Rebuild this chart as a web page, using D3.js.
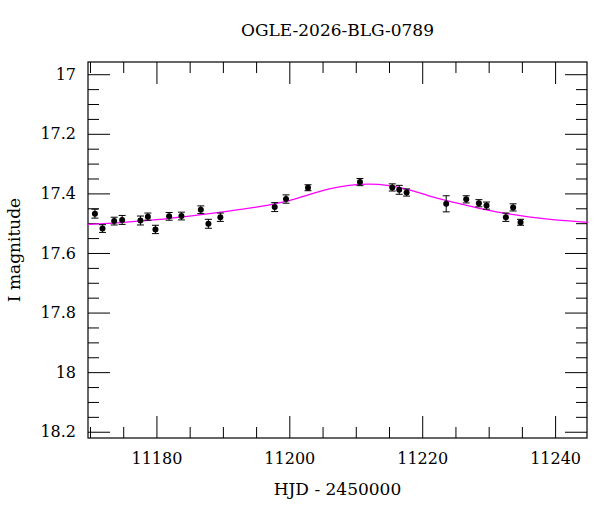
<!DOCTYPE html>
<html><head><meta charset="utf-8">
<script src="https://cdn.jsdelivr.net/npm/d3@7"></script>
<style>body{margin:0;background:#fff}</style>
</head><body><div id="chart"></div>
<script>
// observed photometry
var hjd = [11170.74, 11171.88, 11173.64, 11174.84, 11177.59, 11178.71, 11179.85, 11181.91, 11183.76,
  11186.68, 11187.82, 11189.62, 11197.80, 11199.50, 11202.81, 11210.63, 11215.49, 11216.54, 11217.65,
  11223.61, 11226.62, 11228.53, 11229.68, 11232.59, 11233.68, 11234.80];
var mag = [17.468, 17.518, 17.493, 17.489, 17.491, 17.478, 17.521, 17.477, 17.476,
  17.455, 17.502, 17.480, 17.446, 17.419, 17.381, 17.362, 17.380, 17.388, 17.397,
  17.435, 17.420, 17.433, 17.441, 17.480, 17.447, 17.497];
var err = [0.015, 0.013, 0.013, 0.015, 0.015, 0.012, 0.014, 0.013, 0.013,
  0.013, 0.015, 0.014, 0.015, 0.014, 0.010, 0.012, 0.012, 0.015, 0.012,
  0.027, 0.012, 0.012, 0.012, 0.014, 0.012, 0.010];
// model curve
var modelT = [11169.7, 11175, 11180, 11185, 11190, 11195, 11200, 11203, 11206, 11209, 11212, 11215,
  11218, 11221, 11224, 11227, 11230, 11233, 11236, 11240, 11245];
var modelM = [17.504, 17.497, 17.488, 17.476, 17.462, 17.446, 17.424, 17.404, 17.385, 17.373, 17.369, 17.374,
  17.388, 17.408, 17.426, 17.442, 17.457, 17.469, 17.479, 17.489, 17.497];
var xTicks = [11180, 11200, 11220, 11240];
var yTicks = [17, 17.2, 17.4, 17.6, 17.8, 18, 18.2];

var margin = { top: 62, right: 13, bottom: 74, left: 88 },
  width = 600 - margin.left - margin.right,
  height = 512 - margin.top - margin.bottom;
var font = "'DejaVu Serif', serif";

var svg = d3.select("#chart").append("svg")
  .attr("width", 600).attr("height", 512)
  .append("g")
  .attr("transform", "translate(" + margin.left + "," + margin.top + ")");

var x = d3.scaleLinear().domain([11169.7, 11244.8]).range([0, width]);
var y = d3.scaleLinear().domain([16.959, 18.221]).range([0, height]);

// ticks, drawn inward on all four sides
function ticks(axisFn, scale, vals, len, transform, labels) {
  var g = svg.append("g").attr("transform", transform)
    .call(axisFn(scale).tickValues(vals).tickSize(len)
      .tickFormat(labels ? d3.format("") : ""));
  g.select(".domain").remove();
  g.selectAll("line").attr("stroke", "#000");
  return g;
}
var xMinor = d3.range(11170, 11245, 5).filter(function (d) { return d % 20 !== 0; });
var yMinor = d3.range(0, 26).map(function (i) { return +(16.95 + i * 0.05).toFixed(2); })
  .filter(function (d) { return d >= 16.96 && d <= 18.22 && Math.round(d * 100) % 20 !== 0; });

var gx = ticks(d3.axisTop, x, xTicks, 22, "translate(0," + height + ")", true);
gx.selectAll("text").attr("y", 26).attr("dy", "0").attr("font-family", font).attr("font-size", 16).attr("fill", "#000");
ticks(d3.axisTop, x, xMinor, 11, "translate(0," + height + ")", false);
ticks(d3.axisBottom, x, xTicks, 22, "translate(0,0)", false);
ticks(d3.axisBottom, x, xMinor, 11, "translate(0,0)", false);

var gy = ticks(d3.axisRight, y, yTicks, 22, "translate(0,0)", true);
gy.selectAll("text").attr("x", -12).attr("text-anchor", "end").attr("font-family", font).attr("font-size", 16).attr("fill", "#000");
ticks(d3.axisRight, y, yMinor, 11, "translate(0,0)", false);
ticks(d3.axisLeft, y, yTicks, 22, "translate(" + width + ",0)", false);
ticks(d3.axisLeft, y, yMinor, 11, "translate(" + width + ",0)", false);

svg.append("rect").attr("width", width).attr("height", height)
  .attr("fill", "none").attr("stroke", "#000").attr("stroke-width", 1.2);

// model
svg.append("path")
  .datum(d3.zip(modelT, modelM))
  .attr("fill", "none").attr("stroke", "#ff00ff").attr("stroke-width", 1.3)
  .attr("d", d3.line().curve(d3.curveMonotoneX)
    .x(function (d) { return x(d[0]); }).y(function (d) { return y(d[1]); }));

// data with error bars
var pts = svg.selectAll(".pt").data(d3.range(hjd.length)).enter().append("g");
pts.append("line")
  .attr("x1", function (i) { return x(hjd[i]); }).attr("x2", function (i) { return x(hjd[i]); })
  .attr("y1", function (i) { return y(mag[i] - err[i]); }).attr("y2", function (i) { return y(mag[i] + err[i]); })
  .attr("stroke", "#000");
[-1, 1].forEach(function (s) {
  pts.append("line")
    .attr("x1", function (i) { return x(hjd[i]) - 3.5; }).attr("x2", function (i) { return x(hjd[i]) + 3.5; })
    .attr("y1", function (i) { return y(mag[i] + s * err[i]); }).attr("y2", function (i) { return y(mag[i] + s * err[i]); })
    .attr("stroke", "#000");
});
pts.append("circle")
  .attr("cx", function (i) { return x(hjd[i]); }).attr("cy", function (i) { return y(mag[i]); })
  .attr("r", 3).attr("fill", "#000");

svg.append("text").attr("x", width / 2).attr("y", -26).attr("text-anchor", "middle")
  .attr("font-family", font).attr("font-size", 17).text("OGLE-2026-BLG-0789");
svg.append("text").attr("x", width / 2).attr("y", height + 57).attr("text-anchor", "middle")
  .attr("font-family", font).attr("font-size", 17).text("HJD - 2450000");
svg.append("text").attr("transform", "rotate(-90)").attr("x", -height / 2).attr("y", -68)
  .attr("text-anchor", "middle").attr("font-family", font).attr("font-size", 17).text("I magnitude");
</script></body></html>
